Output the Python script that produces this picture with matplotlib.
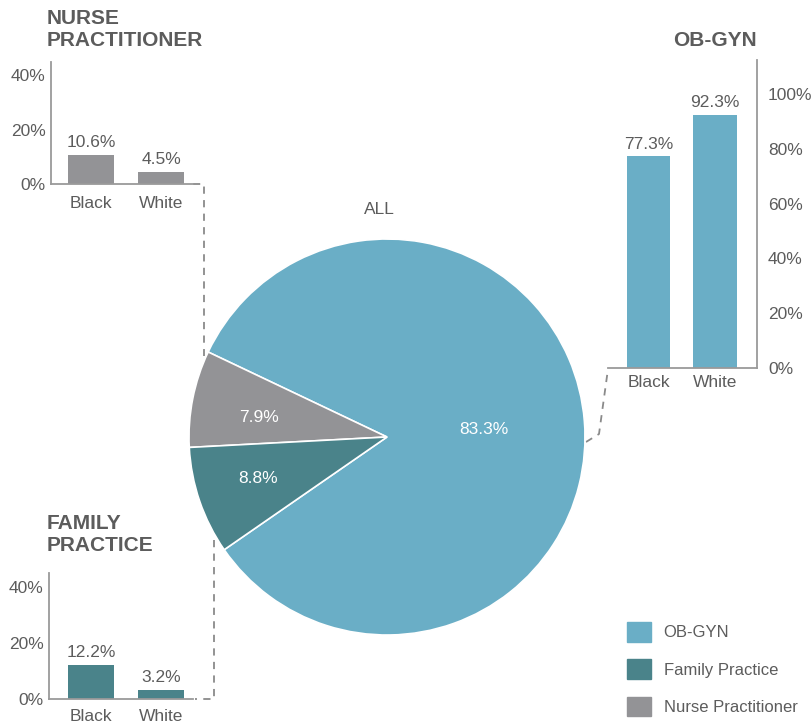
import matplotlib.pyplot as plt
import numpy as np
from matplotlib.patches import Patch

plt.rcParams['font.family'] = ['Liberation Sans', 'DejaVu Sans']

# data
specialties = ['OB-GYN', 'Nurse Practitioner', 'Family Practice']
shares = [83.3, 7.9, 8.8]
races = ['Black', 'White']
obgyn_vals = [77.3, 92.3]
np_vals = [10.6, 4.5]
fp_vals = [12.2, 3.2]

C_OB = '#6aaec6'
C_FP = '#4a838a'
C_NP = '#939396'
TXT = '#5c5c5c'
SPINE = '#9a9a9a'

W, H = 812, 724
fig = plt.figure(figsize=(W / 100, H / 100), dpi=100)


def px_axes(x0, y0, x1, y1):
    # axes from pixel box (top-left origin)
    return fig.add_axes([x0 / W, 1 - y1 / H, (x1 - x0) / W, (y1 - y0) / H])


def small_bars(ax, vals, color, ytop, ticks, right=False, xlim=(-0.571, 1.486), xpad=5):
    ax.bar(range(len(vals)), vals, width=0.66, color=color)
    for i, v in enumerate(vals):
        ax.annotate(f'{v}%', (i, v), xytext=(0, 3.5), textcoords='offset points',
                    ha='center', va='bottom', fontsize=12.5, color=TXT)
    ax.set_xlim(*xlim)
    ax.set_ylim(0, ytop)
    ax.set_xticks(range(len(vals)))
    ax.set_xticklabels(races)
    ax.set_yticks(ticks)
    ax.set_yticklabels([f'{t}%' for t in ticks])
    ax.tick_params(length=0, labelsize=12.5, labelcolor=TXT, pad=4)
    ax.tick_params(axis='x', pad=xpad)
    for s in ['top', 'right', 'left', 'bottom']:
        ax.spines[s].set_visible(False)
    side = 'right' if right else 'left'
    ax.spines[side].set_visible(True)
    ax.spines['bottom'].set_visible(True)
    ax.spines[side].set_color(SPINE)
    ax.spines['bottom'].set_color(SPINE)
    ax.spines[side].set_linewidth(1.3)
    ax.spines['bottom'].set_linewidth(1.3)
    if right:
        ax.yaxis.tick_right()
        ax.tick_params(axis='y', pad=8)
    ax.patch.set_alpha(0)


# nurse practitioner
ax_np = px_axes(51, 62, 193, 184)
small_bars(ax_np, np_vals, C_NP, 44.8, [0, 20, 40], xlim=(-0.571, 1.457), xpad=9)
fig.text(47 / W, 1 - 9 / H, 'NURSE\nPRACTITIONER', ha='left', va='top',
         fontsize=15, fontweight='bold', color=TXT, linespacing=1.22)

# family practice
ax_fp = px_axes(49, 573, 193, 699)
small_bars(ax_fp, fp_vals, C_FP, 45.2, [0, 20, 40], xlim=(-0.6, 1.457), xpad=7)
fig.text(47 / W, 1 - 514 / H, 'FAMILY\nPRACTICE', ha='left', va='top',
         fontsize=15, fontweight='bold', color=TXT, linespacing=1.22)

# ob-gyn
ax_ob = px_axes(608, 60, 757, 368)
small_bars(ax_ob, obgyn_vals, C_OB, 112.5, [0, 20, 40, 60, 80, 100], right=True,
           xlim=(-0.609, 1.632))
fig.text(757 / W, 1 - 31 / H, 'OB-GYN', ha='right', va='top',
         fontsize=15, fontweight='bold', color=TXT)

# pie
r = 198
ax_pie = px_axes(387 - r, 437 - r, 387 + r, 437 + r)
wedges, _ = ax_pie.pie(shares, colors=[C_OB, C_NP, C_FP], startangle=214.7,
                       counterclock=True, radius=1,
                       wedgeprops=dict(edgecolor='white', linewidth=1.2))
ax_pie.set_xlim(-1, 1)
ax_pie.set_ylim(-1, 1)
ax_pie.set_aspect('equal')
ax_pie.axis('off')
for w, v, d, dy in zip(wedges, shares, [0.49, 0.66, 0.69], [0.0, -0.03, 0.012]):
    ang = np.deg2rad((w.theta1 + w.theta2) / 2)
    ax_pie.text(d * np.cos(ang), d * np.sin(ang) + dy, f'{v}%', ha='center',
                va='center', color='white', fontsize=12.5)
fig.text(379 / W, 1 - 210 / H, 'ALL', ha='center', va='center',
         fontsize=12.5, color=TXT)

# dashed connectors
ov = fig.add_axes([0, 0, 1, 1], zorder=-1)
ov.set_xlim(0, W)
ov.set_ylim(H, 0)
ov.axis('off')
dash = dict(color='#8a8a8a', lw=1.3, ls=(0, (4, 3.5)))
ov.plot([193, 204, 204], [184, 184, 356], **dash)
ov.plot([214, 214, 195], [540, 699, 699], **dash)
ov.plot([586, 599, 608], [442, 434, 369], **dash)

# legend
handles = [Patch(color=C_OB, label='OB-GYN'),
           Patch(color=C_FP, label='Family Practice'),
           Patch(color=C_NP, label='Nurse Practitioner')]
fig.legend(handles=handles, loc='upper left',
           bbox_to_anchor=(627 / W, 1 - 622 / H), frameon=False,
           borderpad=0, borderaxespad=0,
           fontsize=12, handlelength=1.45, handleheight=1.45,
           labelspacing=1.05, handletextpad=0.75, labelcolor=TXT)

fig.savefig('out.png', dpi=100)
